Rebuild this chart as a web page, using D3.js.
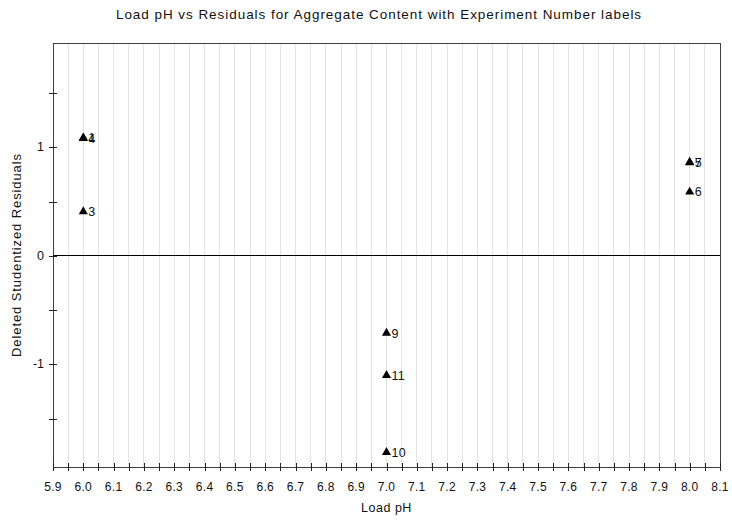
<!DOCTYPE html>
<html><head><meta charset="utf-8">
<script src="https://cdn.jsdelivr.net/npm/d3@7"></script>
<style>body{margin:0;background:#fff}svg{display:block;font-family:"Liberation Sans",Arial,sans-serif}</style>
</head><body><svg id="c" width="732" height="521"></svg>
<script>
const labels = ["1","4","3","5","7","6","9","11","10"];
const loadPH = [6.0,6.0,6.0,8.0,8.0,8.0,7.0,7.0,7.0];
const residuals = [1.09,1.085,0.41,0.865,0.86,0.59,-0.71,-1.10,-1.81];
const xTickLabels = ["5.9","6.0","6.1","6.2","6.3","6.4","6.5","6.6","6.7","6.8","6.9","7.0","7.1","7.2","7.3","7.4","7.5","7.6","7.7","7.8","7.9","8.0","8.1"];
const yTickLabels = ["-1","0","1"];

const svg = d3.select("#c");
const L=53,R=720,T=43,B=467;
const x = d3.scaleLinear().domain([5.9,8.1]).range([L,R]);
const y = d3.scaleLinear().domain([-1.945,1.963]).range([B,T]);

const minor = d3.range(0,45).map(i=>5.9+i*0.05);
svg.append("g").selectAll("line").data(minor.filter((d,i)=>i>0&&i<44)).join("line")
  .attr("x1",d=>x(d)).attr("x2",d=>x(d)).attr("y1",T).attr("y2",B)
  .attr("stroke","#e3e3e3").attr("stroke-width",1).attr("shape-rendering","crispEdges");

svg.append("rect").attr("x",L).attr("y",T).attr("width",R-L).attr("height",B-T)
  .attr("fill","none").attr("stroke","#404040").attr("shape-rendering","crispEdges");

svg.append("line").attr("x1",L).attr("x2",R).attr("y1",y(0)).attr("y2",y(0))
  .attr("stroke","#000").attr("shape-rendering","crispEdges");

const xa = d3.axisBottom(x).tickValues(minor).tickSize(4).tickFormat("");
const gx = svg.append("g").attr("transform",`translate(0,${B})`).call(xa);
gx.select(".domain").remove();
gx.selectAll(".tick line").attr("y1",-4).attr("y2",4).attr("stroke","#222").attr("shape-rendering","crispEdges");
svg.append("g").selectAll("text").data(xTickLabels).join("text")
  .attr("x",d=>x(+d)).attr("y",B+24).attr("text-anchor","middle")
  .attr("font-size",12).attr("letter-spacing",0.3).attr("fill","#111").text(d=>d);

const gy = svg.append("g").attr("transform",`translate(${L},0)`)
  .call(d3.axisLeft(y).tickValues([-1.5,-1,-0.5,0,0.5,1,1.5]).tickSize(4).tickFormat(""));
gy.select(".domain").remove();
gy.selectAll(".tick line").attr("x1",-4).attr("x2",4).attr("stroke","#222").attr("shape-rendering","crispEdges");
svg.append("g").selectAll("text").data(yTickLabels).join("text")
  .attr("x",L-9).attr("y",d=>y(+d)+4).attr("text-anchor","end")
  .attr("font-size",12.5).attr("fill","#111").text(d=>d);

const sym = d3.symbol().type(d3.symbolTriangle).size(36);
const g = svg.append("g");
labels.forEach((lab,i)=>{
  const px=x(loadPH[i]), py=y(residuals[i]);
  g.append("path").attr("d",sym()).attr("transform",`translate(${px},${py})`).attr("fill","#000");
  g.append("text").attr("x",px+5).attr("y",py+4.5).attr("font-size",12.5).attr("letter-spacing",0.3).attr("fill","#111").text(lab);
});

svg.append("text").attr("x",379).attr("y",19).attr("text-anchor","middle").attr("font-size",13.5).attr("letter-spacing",0.95).attr("fill","#111")
  .text("Load pH vs Residuals for Aggregate Content with Experiment Number labels");
svg.append("text").attr("x",(L+R)/2).attr("y",512).attr("text-anchor","middle").attr("font-size",12.5).attr("letter-spacing",0.5).attr("fill","#111").text("Load pH");
svg.append("text").attr("transform",`translate(21,${(T+B)/2}) rotate(-90)`).attr("text-anchor","middle").attr("font-size",13).attr("letter-spacing",0.9).attr("fill","#111").text("Deleted Studentized Residuals");
</script></body></html>
